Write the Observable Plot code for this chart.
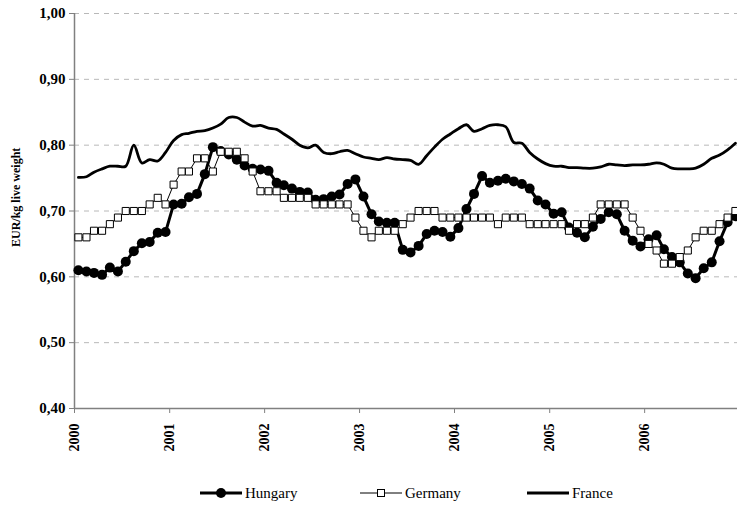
<!DOCTYPE html>
<html><head><meta charset="utf-8">
<script src="https://cdn.jsdelivr.net/npm/d3@7"></script>
<script src="https://cdn.jsdelivr.net/npm/@observablehq/plot@0.6"></script>
<style>
body{margin:0;background:#fff;font-family:"Liberation Serif","Tinos","DejaVu Serif",serif;}
#chart svg{display:block}
#legend{position:relative;width:737px;height:33px;font-size:15px;color:#000;font-family:"Liberation Serif","Tinos","DejaVu Serif",serif;}
.item{position:absolute;top:0;height:36px;display:flex;align-items:center;}
.item svg{display:block}
.item span{margin-left:3px}
</style></head><body>
<div id="chart"></div>
<div id="legend"></div>
<script>
const years = [2000, 2001, 2002, 2003, 2004, 2005, 2006];
const yTicks = [0.4, 0.5, 0.6, 0.7, 0.8, 0.9, 1.0];
const gridLines = [0.5, 0.6, 0.7, 0.8, 0.9, 1.0];
const seriesNames = ["Hungary", "Germany", "France"];
const yLabel = "EUR/kg live weight";

const hungary = [
0.610,0.608,0.606,0.603,0.614,0.608,0.623,0.639,0.651,0.653,0.667,0.668,
0.710,0.711,0.721,0.726,0.756,0.797,0.791,0.786,0.778,0.769,0.764,0.763,
0.761,0.743,0.739,0.734,0.729,0.728,0.717,0.718,0.722,0.725,0.741,0.748,
0.722,0.695,0.684,0.682,0.682,0.641,0.637,0.647,0.665,0.670,0.668,0.661,
0.674,0.703,0.726,0.753,0.743,0.746,0.749,0.745,0.741,0.734,0.716,0.710,
0.696,0.698,0.675,0.667,0.660,0.676,0.688,0.698,0.695,0.670,0.655,0.646,
0.657,0.663,0.642,0.630,0.622,0.605,0.598,0.613,0.622,0.654,0.683,0.692
];
const germany = [
0.66,0.66,0.67,0.67,0.68,0.69,0.70,0.70,0.70,0.71,0.72,0.71,
0.74,0.76,0.76,0.78,0.78,0.76,0.79,0.79,0.79,0.78,0.76,0.73,
0.73,0.73,0.72,0.72,0.72,0.72,0.71,0.71,0.71,0.71,0.71,0.69,
0.67,0.66,0.67,0.67,0.67,0.68,0.69,0.70,0.70,0.70,0.69,0.69,
0.69,0.69,0.69,0.69,0.69,0.68,0.69,0.69,0.69,0.68,0.68,0.68,
0.68,0.68,0.67,0.68,0.68,0.69,0.71,0.71,0.71,0.71,0.69,0.67,
0.65,0.64,0.62,0.62,0.63,0.64,0.66,0.67,0.67,0.68,0.69,0.70
];
const france = [
0.751,0.752,0.759,0.764,0.768,0.768,0.768,0.800,0.773,0.778,0.776,0.789,
0.807,0.816,0.818,0.821,0.822,0.826,0.832,0.842,0.842,0.835,0.829,0.830,
0.826,0.824,0.817,0.809,0.800,0.796,0.800,0.789,0.787,0.790,0.792,0.787,
0.782,0.780,0.778,0.781,0.779,0.778,0.777,0.771,0.784,0.797,0.809,0.817,
0.825,0.831,0.821,0.825,0.830,0.831,0.828,0.804,0.803,0.789,0.779,0.772,
0.768,0.768,0.766,0.766,0.765,0.765,0.767,0.771,0.770,0.769,0.770,0.770,
0.771,0.773,0.771,0.765,0.764,0.764,0.765,0.771,0.780,0.785,0.793,0.803
];

const toRows = (vals) => vals.map((v, i) => ({date: new Date(Date.UTC(2000, i, 16)), value: v}));
const hRows = toRows(hungary), gRows = toRows(germany), fRows = toRows(france);
const x0 = new Date(Date.UTC(2000, 0, 1));
const x1 = new Date(Date.UTC(2006, 11, 24));
const fmt = d => d.toFixed(2).replace(".", ",");
const serif = "Liberation Serif, Tinos, DejaVu Serif, serif";

const chart = Plot.plot({
  width: 737,
  height: 475,
  marginLeft: 74,
  marginRight: 0,
  marginTop: 13,
  marginBottom: 67,
  style: {fontFamily: serif, fontWeight: "bold", fontSize: "15px", background: "#fff", overflow: "visible"},
  x: {type: "utc", domain: [x0, x1]},
  y: {domain: [0.4, 1.0]},
  marks: [
    Plot.ruleY(gridLines, {stroke: "#b8b8b8", strokeDasharray: "5,5", strokeWidth: 1}),
    Plot.ruleX([x0], {stroke: "#808080", strokeWidth: 1.5}),
    Plot.ruleY([0.4], {stroke: "#808080", strokeWidth: 1.5}),
    Plot.axisY({ticks: yTicks, tickFormat: fmt, tickSize: 5, tickPadding: 4, stroke: "#808080", fill: "black", label: null, fontFamily: serif, fontWeight: "bold", fontSize: 15}),
    Plot.axisX({ticks: years.map(y => new Date(Date.UTC(y, 0, 1))), tickFormat: d => String(d.getUTCFullYear()), tickRotate: -90, tickSize: 5, tickPadding: 10, stroke: "#808080", fill: "black", label: null, fontFamily: serif, fontWeight: "bold", fontSize: 14}),
    Plot.text([yLabel], {frameAnchor: "left", dx: -58, dy: 36, rotate: -90, fontSize: 12, fill: "black", fontFamily: serif, fontWeight: "bold"}),
    Plot.line(fRows, {x: "date", y: "value", stroke: "black", strokeWidth: 2.8, curve: "catmull-rom"}),
    Plot.line(hRows, {x: "date", y: "value", stroke: "black", strokeWidth: 3}),
    Plot.dot(hRows, {x: "date", y: "value", r: 5, fill: "black"}),
    Plot.line(gRows, {x: "date", y: "value", stroke: "black", strokeWidth: 1}),
    Plot.dot(gRows, {x: "date", y: "value", symbol: "square", r: 4, fill: "white", stroke: "black", strokeWidth: 1})
  ]
});
document.getElementById("chart").appendChild(chart);

const legend = document.getElementById("legend");
const lefts = [200, 360, 527];
const symbols = [
  '<svg width="42" height="14"><line x1="0" y1="7" x2="42" y2="7" stroke="black" stroke-width="3"/><circle cx="21" cy="7" r="5" fill="black"/></svg>',
  '<svg width="42" height="14"><line x1="0" y1="7" x2="42" y2="7" stroke="black" stroke-width="1"/><rect x="17.5" y="3.5" width="7" height="7" fill="white" stroke="black"/></svg>',
  '<svg width="42" height="14"><line x1="0" y1="7" x2="42" y2="7" stroke="black" stroke-width="3"/></svg>'
];
seriesNames.forEach((name, i) => {
  const d = document.createElement("div");
  d.className = "item";
  d.style.left = lefts[i] + "px";
  d.innerHTML = symbols[i] + "<span>" + name + "</span>";
  legend.appendChild(d);
});
</script>
</body></html>
